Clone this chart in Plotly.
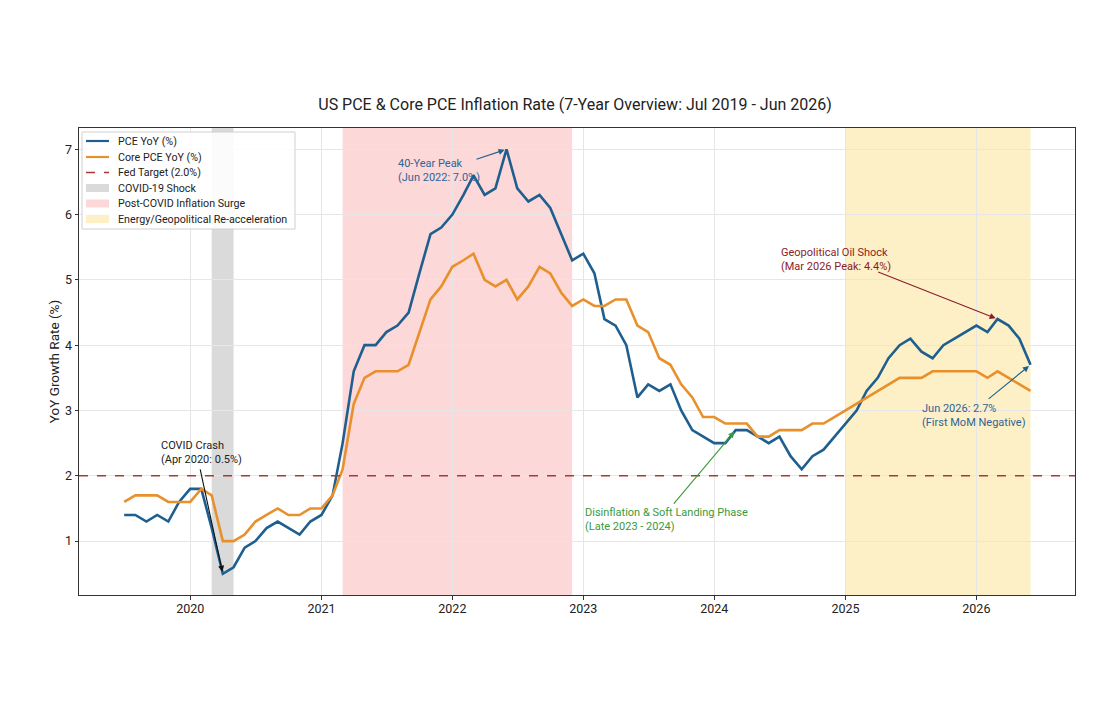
import pandas as pd
import plotly.graph_objects as go

# ---------------- data ----------------
months = pd.date_range("2019-07-01", "2026-06-01", freq="MS")

pce = [1.4, 1.4, 1.3, 1.4, 1.3, 1.6,
       1.8, 1.8, 1.2, 0.5, 0.6, 0.9, 1.0, 1.2, 1.3, 1.2, 1.1, 1.3,
       1.4, 1.7, 2.5, 3.6, 4.0, 4.0, 4.2, 4.3, 4.5, 5.1, 5.7, 5.8,
       6.0, 6.3, 6.6, 6.3, 6.4, 7.0, 6.4, 6.2, 6.3, 6.1, 5.7, 5.3,
       5.4, 5.1, 4.4, 4.3, 4.0, 3.2, 3.4, 3.3, 3.4, 3.0, 2.7, 2.6,
       2.5, 2.5, 2.7, 2.7, 2.6, 2.5, 2.6, 2.3, 2.1, 2.3, 2.4, 2.6,
       2.8, 3.0, 3.3, 3.5, 3.8, 4.0, 4.1, 3.9, 3.8, 4.0, 4.1, 4.2,
       4.3, 4.2, 4.4, 4.3, 4.1, 3.7]

core = [1.6, 1.7, 1.7, 1.7, 1.6, 1.6,
        1.6, 1.8, 1.7, 1.0, 1.0, 1.1, 1.3, 1.4, 1.5, 1.4, 1.4, 1.5,
        1.5, 1.7, 2.1, 3.1, 3.5, 3.6, 3.6, 3.6, 3.7, 4.2, 4.7, 4.9,
        5.2, 5.3, 5.4, 5.0, 4.9, 5.0, 4.7, 4.9, 5.2, 5.1, 4.8, 4.6,
        4.7, 4.6, 4.6, 4.7, 4.7, 4.3, 4.2, 3.8, 3.7, 3.4, 3.2, 2.9,
        2.9, 2.8, 2.8, 2.8, 2.6, 2.6, 2.7, 2.7, 2.7, 2.8, 2.8, 2.9,
        3.0, 3.1, 3.2, 3.3, 3.4, 3.5, 3.5, 3.5, 3.6, 3.6, 3.6, 3.6,
        3.6, 3.5, 3.6, 3.5, 3.4, 3.3]

fed_target = 2.0

period_names = ["COVID-19 Shock", "Post-COVID Inflation Surge",
                "Energy/Geopolitical Re-acceleration"]
period_starts = ["2020-03-01", "2021-03-01", "2025-01-01"]
period_ends = ["2020-05-01", "2022-12-01", "2026-06-01"]
period_colors = ["rgba(150,150,150,0.35)", "rgba(245,90,90,0.24)",
                 "rgba(248,205,70,0.30)"]

series_names = ["PCE YoY (%)", "Core PCE YoY (%)", "Fed Target (2.0%)"]

year_ticks = ["2020-01-01", "2021-01-01", "2022-01-01", "2023-01-01",
              "2024-01-01", "2025-01-01", "2026-01-01"]
year_labels = ["2020", "2021", "2022", "2023", "2024", "2025", "2026"]

BLUE = "#1f5f8f"
ORANGE = "#e8902c"
RED = "#a83a32"
FONT = "Roboto"

# ---------------- figure ----------------
fig = go.Figure()

fig.add_trace(go.Scatter(x=months, y=pce, mode="lines", name=series_names[0],
                         line=dict(color=BLUE, width=2.6), showlegend=False))
fig.add_trace(go.Scatter(x=months, y=core, mode="lines", name=series_names[1],
                         line=dict(color=ORANGE, width=2.6), showlegend=False))

fig.add_shape(type="line", xref="paper", x0=0, x1=1, yref="y",
              y0=fed_target, y1=fed_target,
              line=dict(color=RED, width=1.6, dash="dash"), layer="above")

for s, e, c in zip(period_starts, period_ends, period_colors):
    fig.add_shape(type="rect", xref="x", yref="paper", x0=s, x1=e, y0=0, y1=1,
                  fillcolor=c, line=dict(width=0), layer="below")

# ---------------- custom legend (matplotlib-like compact box) ----------------
PL, PR, PT, PB = 79.0, 1075.0, 128.0, 595.0  # plot frame in page pixels


def px(p):
    return (p - PL) / (PR - PL)


def py(p):
    return (PB - p) / (PB - PT)


fig.add_shape(type="rect", xref="paper", yref="paper",
              x0=px(82), x1=px(295), y0=py(229), y1=py(132),
              fillcolor="rgba(255,255,255,0.88)", line=dict(color="#d0d0d0", width=1),
              layer="above")

row_y = [141, 157, 172.5, 188, 203.5, 219]
line_styles = [dict(color=BLUE, width=2.2), dict(color=ORANGE, width=2.2),
               dict(color=RED, width=1.6, dash="dash")]
for k in range(3):
    fig.add_shape(type="line", xref="paper", yref="paper",
                  x0=px(86), x1=px(109), y0=py(row_y[k]), y1=py(row_y[k]),
                  line=line_styles[k], layer="above")
for k in range(3):
    r = row_y[3 + k]
    fig.add_shape(type="rect", xref="paper", yref="paper",
                  x0=px(86), x1=px(109), y0=py(r + 4), y1=py(r - 4),
                  fillcolor=period_colors[k], line=dict(width=0), layer="above")

for txt, r in zip(series_names + period_names, row_y):
    fig.add_annotation(x=px(116), y=py(r), xref="paper", yref="paper", text=txt,
                       showarrow=False, xanchor="left", yanchor="middle",
                       font=dict(family=FONT, size=10.7, color="#222222"))

# ---------------- annotations ----------------
def idx(date):
    return list(months).index(pd.Timestamp(date))


def arrow(head_x, head_y, tail_x, tail_y, color):
    fig.add_annotation(x=head_x, y=head_y, ax=tail_x, ay=tail_y,
                       xref="x", yref="y", axref="x", ayref="y",
                       text="", showarrow=True, arrowhead=2, arrowsize=1.1,
                       arrowwidth=1.1, arrowcolor=color, standoff=2)


def label(x, y, txt, color):
    fig.add_annotation(x=x, y=y, xref="x", yref="y", text=txt, showarrow=False,
                       xanchor="left", yanchor="middle", align="left",
                       font=dict(family=FONT, size=11, color=color))


i = idx("2020-04-01")
arrow(months[i], pce[i], "2020-01-28", 2.12, "#111111")
label("2019-10-06", 2.36, "COVID Crash<br>(Apr 2020: 0.5%)", "#222222")

i = idx("2022-06-01")
arrow(months[i], pce[i], "2022-03-05", 6.84, BLUE)
label("2021-07-28", 6.67, "40-Year Peak<br>(Jun 2022: 7.0%)", "#2f6496")

i = idx("2026-03-01")
arrow(months[i], pce[i], "2025-03-29", 5.13, "#8b1c2a")
label("2024-07-01", 5.31, "Geopolitical Oil Shock<br>(Mar 2026 Peak: 4.4%)", "#8b1c2a")

i = idx("2026-06-01")
arrow(months[i], pce[i], "2026-01-31", 3.16, BLUE)
label("2025-07-28", 2.93, "Jun 2026: 2.7%<br>(First MoM Negative)", "#2f6496")

i = idx("2024-03-01")
arrow(months[i], pce[i], "2023-09-07", 1.55, "#3a9a3a")
label("2022-12-30", 1.33, "Disinflation & Soft Landing Phase<br>(Late 2023 - 2024)", "#3a9a3a")

# ---------------- layout ----------------
x_lo = months[0] - pd.Timedelta(days=126)
x_hi = months[-1] + pd.Timedelta(days=124)

fig.update_layout(
    width=1114, height=728,
    margin=dict(l=71, r=47, t=120, b=141),
    paper_bgcolor="white", plot_bgcolor="white",
    font=dict(family=FONT, size=12, color="#222222"),
    title=dict(text="US PCE & Core PCE Inflation Rate (7-Year Overview: Jul 2019 - Jun 2026)",
               x=0.509, xanchor="center", y=0.868, yanchor="middle",
               font=dict(family=FONT, size=16, color="#222222")),
    showlegend=False,
)

fig.update_xaxes(range=[x_lo, x_hi], tickvals=year_ticks, ticktext=year_labels,
                 showgrid=True, gridcolor="#e6e6e6", gridwidth=1,
                 showline=True, linecolor="#333333", linewidth=1, mirror=True,
                 ticks="outside", ticklen=3.5, tickcolor="#333333",
                 tickfont=dict(size=12.5), zeroline=False, ticklabelstandoff=-2)
fig.update_yaxes(range=[0.175, 7.325], tickvals=[1, 2, 3, 4, 5, 6, 7],
                 title=dict(text="YoY Growth Rate (%)", font=dict(size=13.5), standoff=2),
                 showgrid=True, gridcolor="#e6e6e6", gridwidth=1,
                 showline=True, linecolor="#333333", linewidth=1, mirror=True,
                 ticks="outside", ticklen=3.5, tickcolor="#333333",
                 tickfont=dict(size=12.5), zeroline=False)

fig.write_html("out.html")
